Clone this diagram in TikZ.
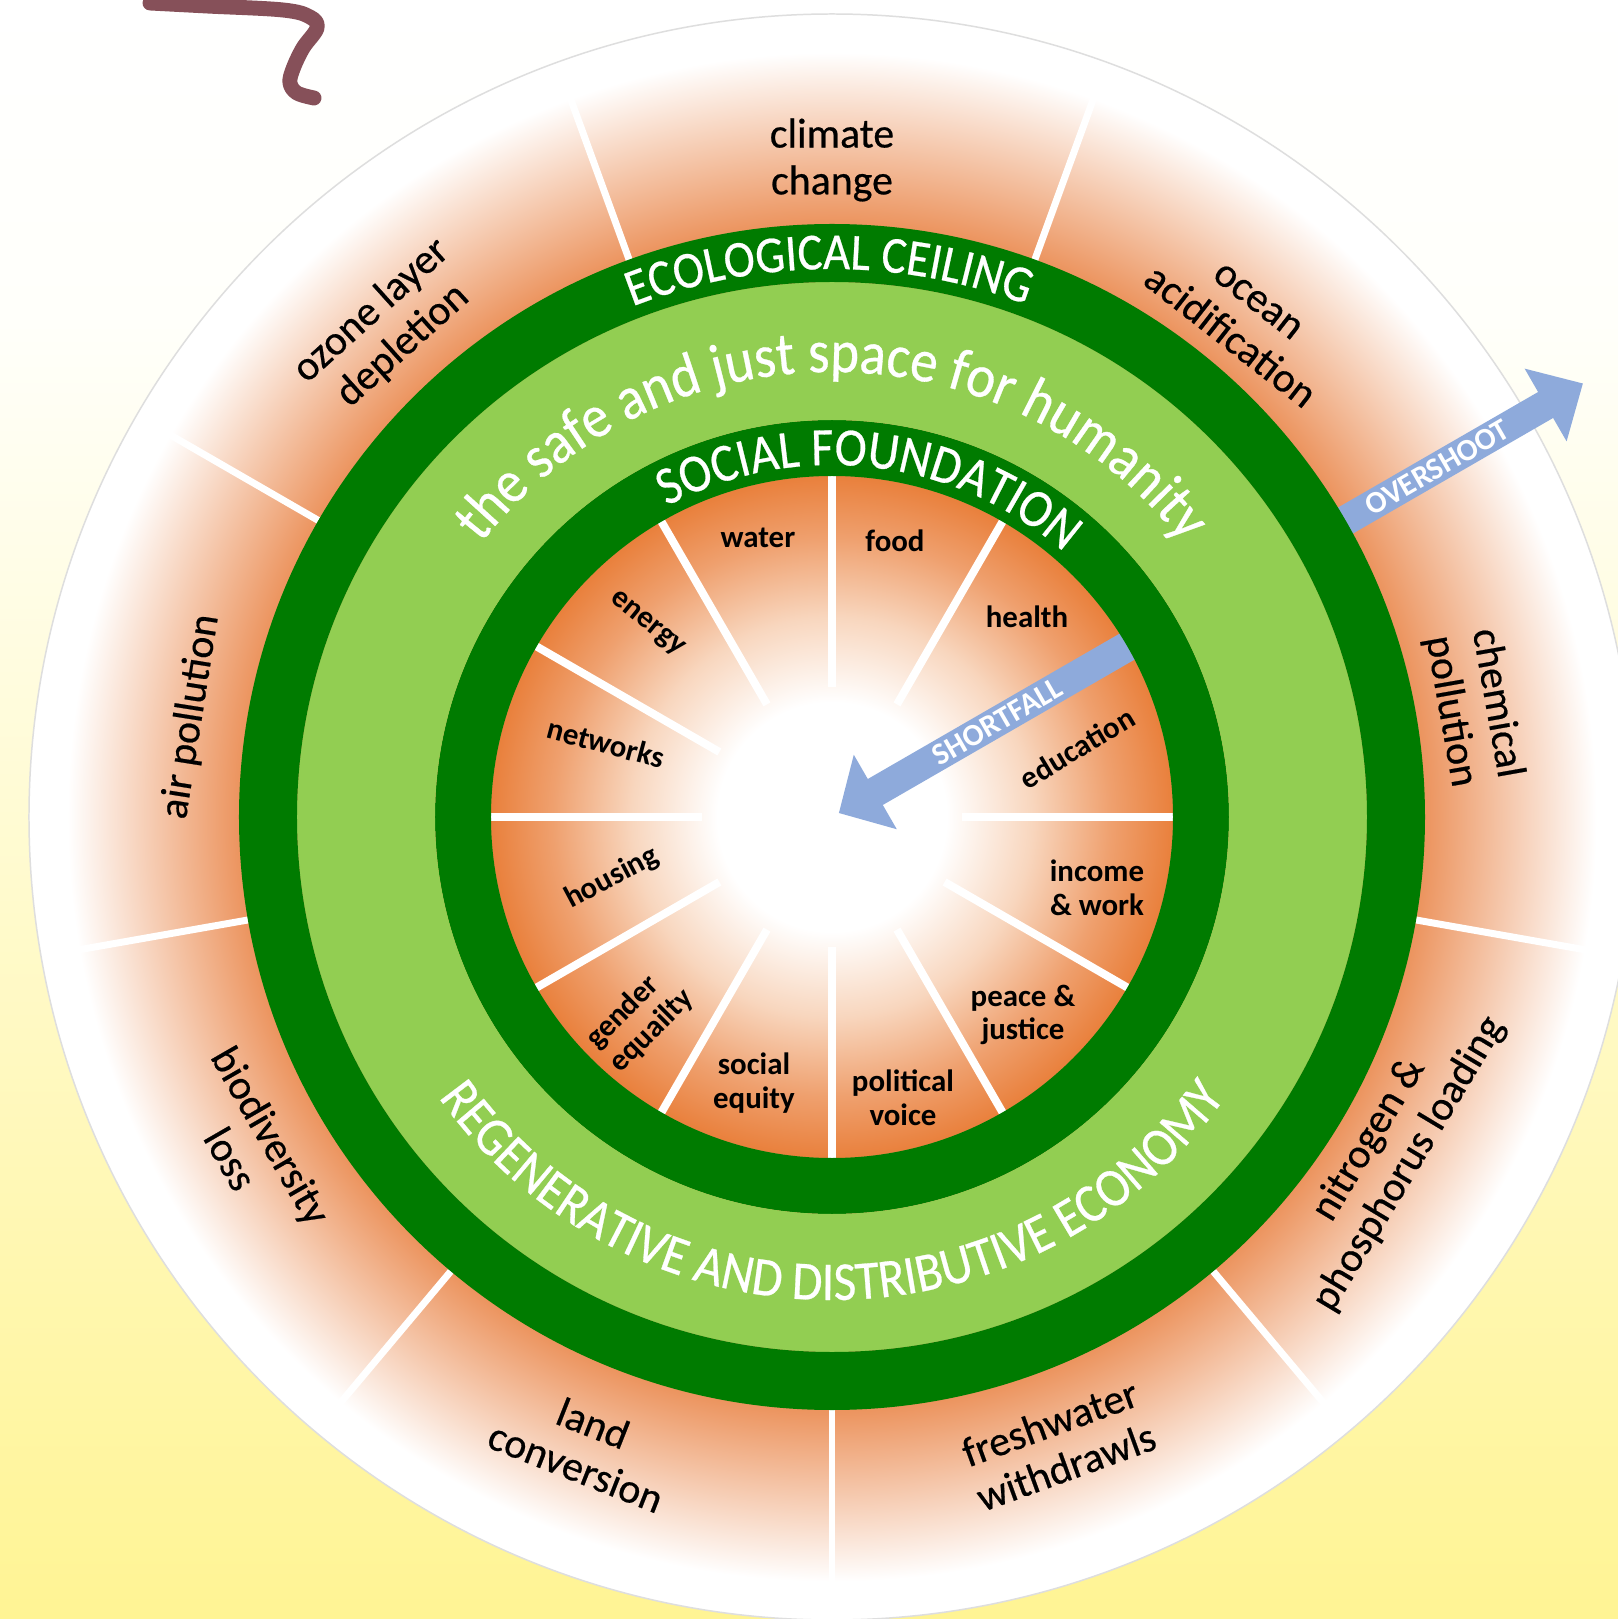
\documentclass[tikz,border=0pt]{standalone}
\usepackage{fontspec}
\setmainfont{Carlito}
\newfontfamily\ringfont[FakeStretch=0.9, FakeBold=0.5]{Carlito}
\newfontfamily\lblfont[FakeBold=0.5]{Carlito}
\usetikzlibrary{decorations.text}
\definecolor{dkgreen}{RGB}{0,123,0}
\definecolor{ltgreen}{RGB}{146,206,82}
\definecolor{arrowblue}{RGB}{142,170,219}
\definecolor{squig}{RGB}{134,80,89}
\definecolor{rimgray}{RGB}{222,222,222}
\pgfdeclareverticalshading{bgshade}{100bp}{rgb(0bp)=(1,0.957,0.58); rgb(25bp)=(1,0.957,0.58); rgb(65bp)=(1,1,0.98); rgb(75bp)=(1,1,1); rgb(100bp)=(1,1,1)}
\pgfdeclareradialshading{outerband}{\pgfpoint{0bp}{0bp}}{rgb(0bp)=(0.925,0.58,0.37); rgb(18.46bp)=(0.925,0.58,0.37); rgb(23.8bp)=(1,1,1); rgb(50bp)=(1,1,1)}
\pgfdeclareradialshading{innerdisc}{\pgfpoint{0bp}{0bp}}{rgb(0bp)=(1,1,1); rgb(8.4bp)=(1,1,1); rgb(14.66bp)=(0.973,0.84,0.745); rgb(20.5bp)=(0.937,0.627,0.431); rgb(25bp)=(0.914,0.502,0.235); rgb(50bp)=(0.914,0.502,0.235)}
\begin{document}
\begin{tikzpicture}[x=1bp,y=1bp,
  outerlbl/.style={font=\lblfont\fontsize{42}{47}\selectfont, align=center, text=black, inner sep=0pt},
  innerlbl/.style={font=\fontsize{31}{34}\selectfont\bfseries, align=center, text=black, inner sep=0pt},
  arrowlbl/.style={font=\fontsize{31}{31}\selectfont\bfseries, text=white, inner sep=0pt},
  spokeout/.style={white, line width=7},
  spokein/.style={white, line width=8},
  ringtext/.style={decorate, decoration={text along path, text align=center, text color=white, text={#1}}}
]
\useasboundingbox (-832,-802) rectangle (786,817);
% background
\shade[shading=bgshade] (-832,-802) rectangle (786,817);
% outer disc with orange band
\shade[shading=outerband] (0,0) circle (803);
\draw[rimgray, line width=1.5] (0,0) circle (803);
% outer spokes
\foreach \a in {110,70,30,-10,-50,-90,-130,-170,150}
  \draw[spokeout] (\a:593) -- (\a:770);
% overshoot arrow
\fill[arrowblue, rotate=30] (570,-15) -- (824,-15) -- (824,-42) -- (867,0) -- (824,42) -- (824,15) -- (570,15) -- cycle;
% inner disc
\shade[shading=innerdisc] (0,0) circle (341);
\foreach \a in {0,30,...,330}
  \draw[spokein] (\a:130) -- (\a:343);
% shortfall arrow
\fill[arrowblue, rotate=30] (345,15) -- (50,15) -- (50,43) -- (8,0) -- (50,-43) -- (50,-15) -- (345,-15) -- cycle;
% rings
\fill[dkgreen, even odd rule] (0,0) circle (397) (0,0) circle (341);
\fill[ltgreen, even odd rule] (0,0) circle (535) (0,0) circle (397);
\fill[dkgreen, even odd rule] (0,0) circle (593) (0,0) circle (535);
% ring texts
\path[ringtext={|\ringfont\fontsize{52}{52}\selectfont|ECOLOGICAL CEILING}] (175.3:548) arc[start angle=175.3, end angle=5.3, radius=548];
\path[ringtext={|\ringfont\fontsize{54}{54}\selectfont|SOCIAL FOUNDATION}] (168.4:352) arc[start angle=168.4, end angle=-1.6, radius=352];
\path[ringtext={|\ringfont\fontsize{61}{61}\selectfont|the safe and just space for humanity}] (178:445) arc[start angle=178, end angle=2, radius=445];
\path[ringtext={|\ringfont\fontsize{55}{55}\selectfont|REGENERATIVE AND DISTRIBUTIVE ECONOMY}] (188:483) arc[start angle=188, end angle=352, radius=483];
% arrow labels
\node[arrowlbl, rotate=30] (shortfall) at (30:191) {SHORTFALL};
\node[arrowlbl, rotate=30] (overshoot) at (30:699) {OVERSHOOT};
% outer labels
\node[outerlbl] (climate) at (90:657) {climate\\change};
\node[outerlbl, rotate=-38] (ocean) at (50.4:645) {ocean\\acidification};
\node[outerlbl, rotate=-80] (chem) at (9.7:651) {chemical\\pollution};
\node[outerlbl, rotate=59] (nitro) at (-31:650) {nitrogen \&\\phosphorus loading};
\node[outerlbl, rotate=20] (fresh) at (-70.2:667) {freshwater\\withdrawls};
\node[outerlbl, rotate=-21.5] (land) at (-111.5:675) {land\\conversion};
\node[outerlbl, rotate=-60] (bio) at (-150.4:668) {biodiversity\\loss};
\node[outerlbl, rotate=81] (air) at (171.1:649) {air pollution};
\node[outerlbl, rotate=42] (ozone) at (132.3:661) {ozone layer\\depletion};
% inner labels
\node[innerlbl] (water) at (-74,279) {water};
\node[innerlbl] (food) at (63,276) {food};
\node[innerlbl] (health) at (195,200) {health};
\node[innerlbl, rotate=31] (edu) at (245,69) {education};
\node[innerlbl] (income) at (265,-71) {income\\\& work};
\node[innerlbl] (peace) at (191,-198) {peace \&\\justice};
\node[innerlbl] (political) at (71,-281) {political\\voice};
\node[innerlbl] (socialeq) at (-78,-266) {social\\equity};
\node[innerlbl, rotate=45, align=left] (gender) at (-192,-202) {gender\\equailty};
\node[innerlbl, rotate=28] (housing) at (-220,-61) {housing};
\node[innerlbl, rotate=-15] (networks) at (-226,74) {networks};
\node[innerlbl, rotate=-39] (energy) at (-185,193) {energy};
% squiggle
\draw[squig, line width=15, line cap=round, line join=round] plot[smooth, tension=0.6] coordinates {(-682,814) (-625,811) (-549,807) (-522,800) (-515,789) (-529,769) (-539,748) (-542,734) (-535,724) (-518,719)};
\end{tikzpicture}
\end{document}
